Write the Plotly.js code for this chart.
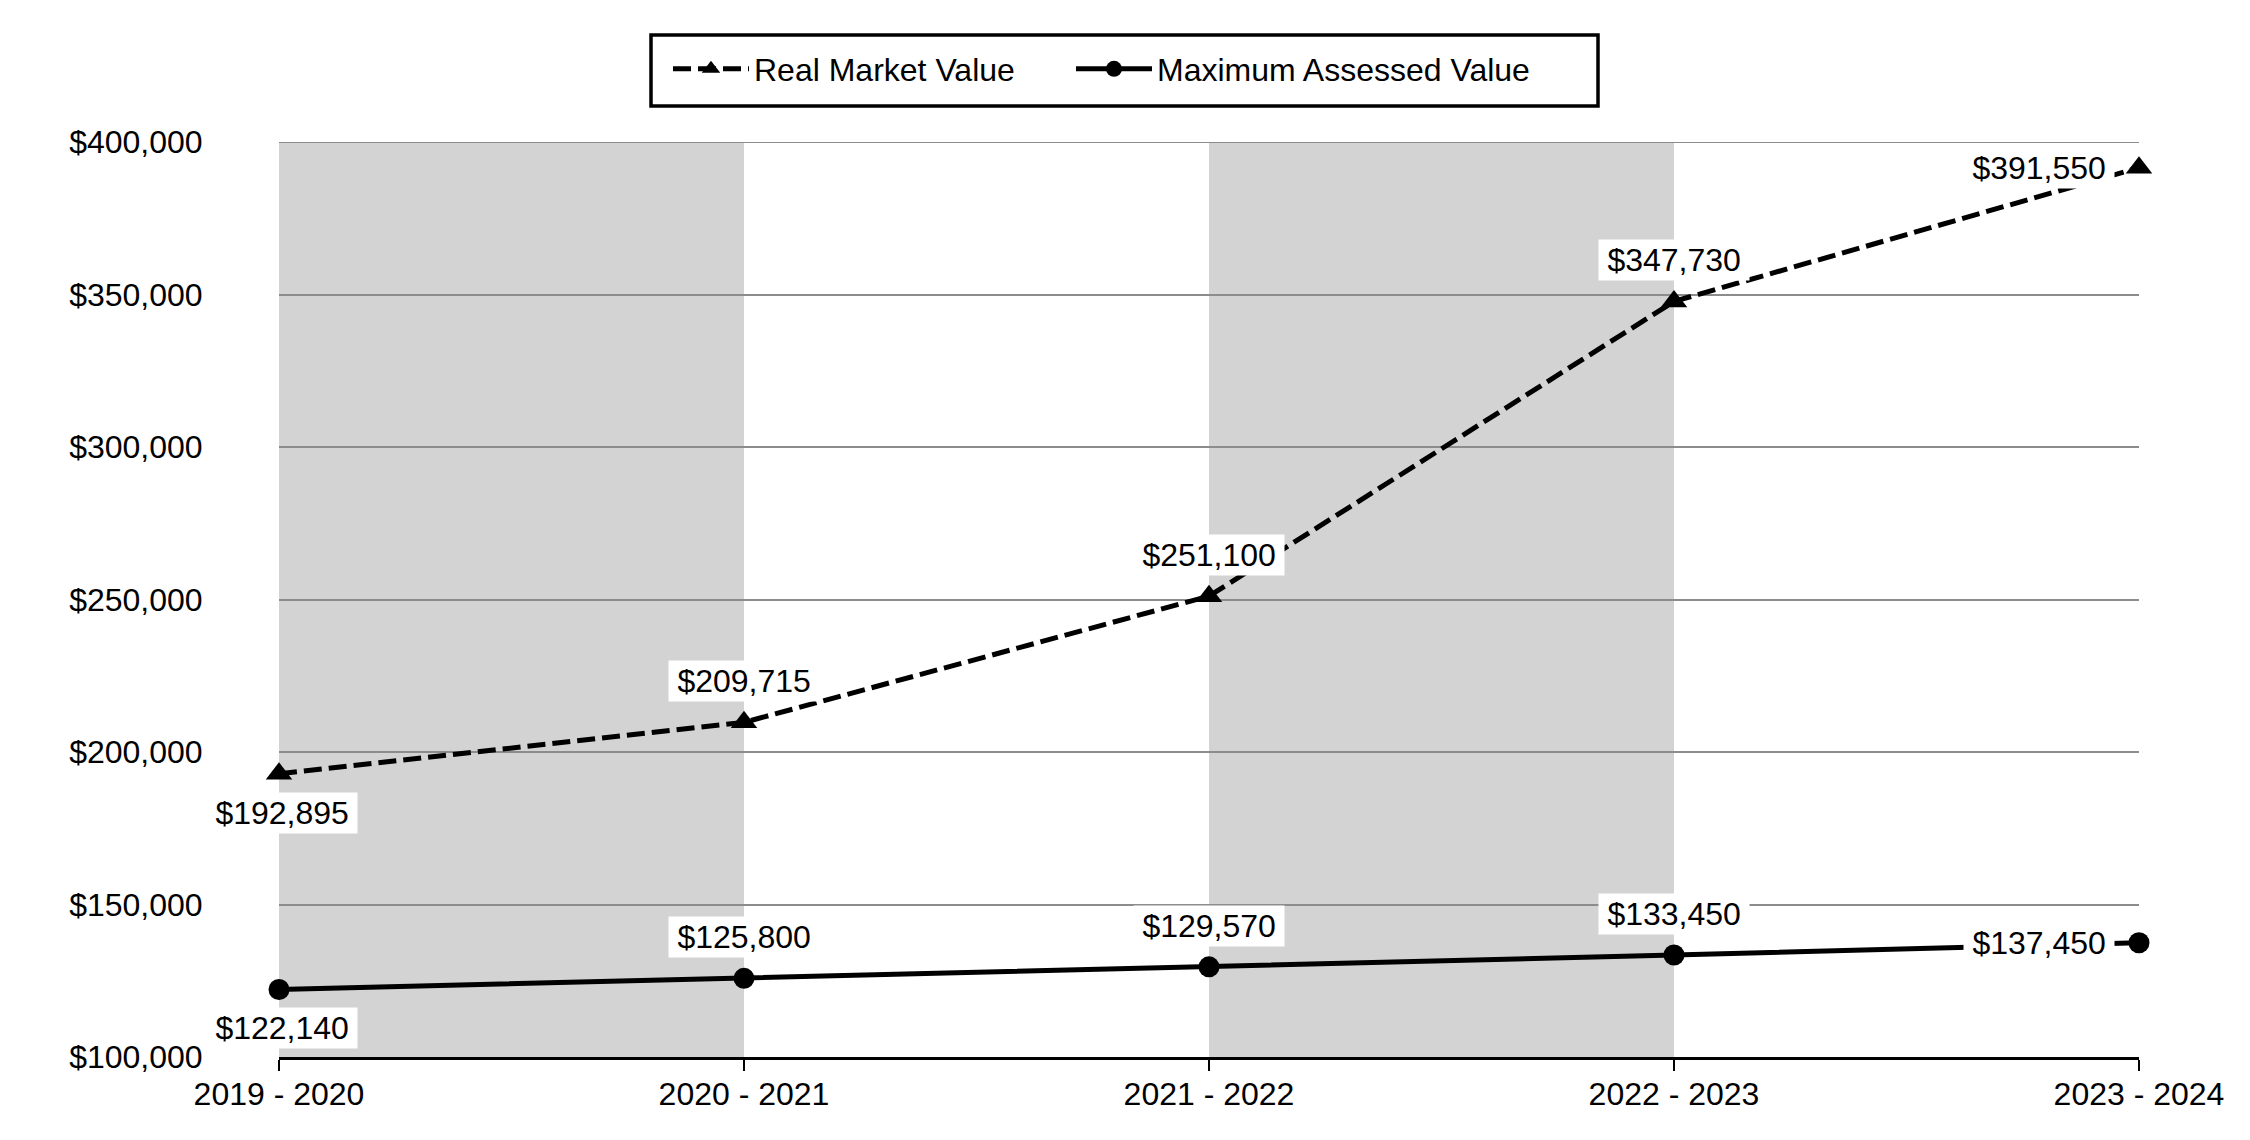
<!DOCTYPE html>
<html>
<head>
<meta charset="utf-8">
<script src="https://cdn.plot.ly/plotly-3.0.1.min.js"></script>
<style>html,body{margin:0;padding:0;background:#fff;}#chart{width:2250px;height:1140px;}</style>
</head>
<body>
<div id="chart"></div>
<script>
// ---- data ----
const categories = ['2019 - 2020', '2020 - 2021', '2021 - 2022', '2022 - 2023', '2023 - 2024'];
const realMarketValue = [192895, 209715, 251100, 347730, 391550];
const maxAssessedValue = [122140, 125800, 129570, 133450, 137450];
const yTickVals = [100000, 150000, 200000, 250000, 300000, 350000, 400000];
const shadedBands = [[0, 1], [2, 3]]; // category index spans

// ---- label placement (style) ----
const rmvPlacement = ['below', 'above', 'above', 'above', 'left'];
const mavPlacement = ['below', 'above', 'above', 'above', 'left'];

const FONT = 'Liberation Sans, Arial, sans-serif';
const fmt = v => '$' + v.toLocaleString('en-US');

// plot geometry in px
const W = 2250, H = 1140;
const M = {l: 279, r: 111, t: 142, b: 83};
const PW = W - M.l - M.r, PH = H - M.t - M.b;
const px2x = p => (p - M.l) / PW;
const px2y = p => (H - M.b - p) / PH;

function makeLabels(vals, placement) {
  return vals.map((v, i) => {
    const p = placement[i];
    const a = {
      x: categories[i], y: v, xref: 'x', yref: 'y',
      text: '&#8201;' + fmt(v) + '&#8201;', showarrow: false,
      font: {family: FONT, size: 32, color: '#000'},
      bgcolor: '#ffffff', borderpad: 2
    };
    if (p === 'above') { a.yshift = 41; a.xanchor = 'center'; a.yanchor = 'middle'; }
    else if (p === 'below') { a.yshift = -39; a.xshift = 3; a.xanchor = 'center'; a.yanchor = 'middle'; }
    else if (p === 'left') { a.xanchor = 'right'; a.xshift = -24; a.yanchor = 'middle'; }
    return a;
  });
}

const traces = [
  {
    type: 'scatter', mode: 'lines+markers', name: 'Real Market Value',
    x: categories, y: realMarketValue,
    line: {color: '#000', width: 5, dash: '18px,7px'},
    marker: {symbol: 'triangle-up', size: 23, color: '#000'},
    cliponaxis: false,
    hoverinfo: 'skip', legend: 'legend'
  },
  {
    type: 'scatter', mode: 'lines+markers', name: 'Maximum Assessed Value',
    x: categories, y: maxAssessedValue,
    line: {color: '#000', width: 5},
    marker: {symbol: 'circle', size: 21, color: '#000'},
    cliponaxis: false,
    hoverinfo: 'skip', legend: 'legend2'
  }
];

const shapes = shadedBands.map(b => ({
  type: 'rect', xref: 'x', yref: 'paper',
  x0: b[0], x1: b[1], y0: 0, y1: 1,
  fillcolor: '#d3d3d3', line: {width: 0}, layer: 'below'
}));
// top gridline (at the range edge, which Plotly does not draw)
shapes.push({
  type: 'line', xref: 'paper', yref: 'y',
  x0: 0, x1: 1, y0: yTickVals[yTickVals.length - 1], y1: yTickVals[yTickVals.length - 1],
  line: {color: '#8c8c8c', width: 2}, layer: 'below'
});
// legend frame
shapes.push({
  type: 'rect', xref: 'paper', yref: 'paper',
  x0: px2x(651), x1: px2x(1598), y0: px2y(106), y1: px2y(35),
  line: {color: '#000', width: 3.5}, fillcolor: 'rgba(0,0,0,0)', layer: 'above'
});

const legendBase = {
  orientation: 'h', xanchor: 'left', y: px2y(69), yanchor: 'middle',
  borderwidth: 0, bgcolor: 'rgba(0,0,0,0)', itemwidth: 76,
  font: {family: FONT, size: 32, color: '#000'}
};

const layout = {
  width: W, height: H,
  margin: M,
  paper_bgcolor: '#fff', plot_bgcolor: '#fff',
  font: {family: FONT, size: 32, color: '#000'},
  showlegend: true,
  legend: Object.assign({}, legendBase, {x: px2x(668)}),
  legend2: Object.assign({}, legendBase, {x: px2x(1071)}),
  xaxis: {
    type: 'category', range: [0, 4],
    showgrid: false, zeroline: false,
    showline: true, linecolor: '#000', linewidth: 3,
    ticks: 'outside', ticklen: 11, tickwidth: 2, tickcolor: '#000',
    ticklabelstandoff: -4,
    tickfont: {family: FONT, size: 32, color: '#000'},
    fixedrange: true
  },
  yaxis: {
    range: [100000, 400000],
    tickmode: 'array', tickvals: yTickVals, ticktext: yTickVals.map(fmt),
    showgrid: true, gridcolor: '#8c8c8c', gridwidth: 2,
    zeroline: false, showline: false,
    ticks: 'outside', ticklen: 69, tickcolor: 'rgba(0,0,0,0)',
    tickfont: {family: FONT, size: 32, color: '#000'},
    fixedrange: true
  },
  shapes: shapes,
  annotations: makeLabels(realMarketValue, rmvPlacement).concat(makeLabels(maxAssessedValue, mavPlacement)),
  hovermode: false
};

Plotly.newPlot('chart', traces, layout, {staticPlot: true, displayModeBar: false});
</script>
</body>
</html>
